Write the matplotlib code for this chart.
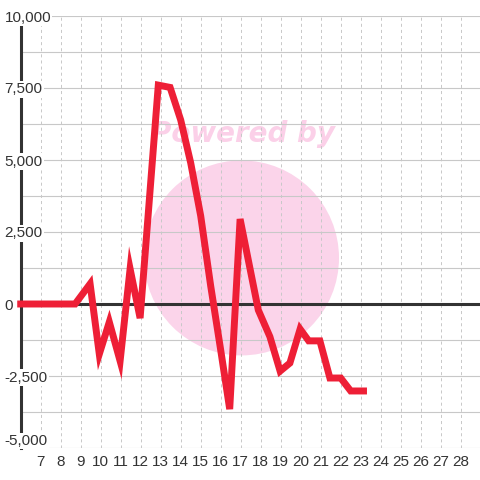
import matplotlib
matplotlib.use("Agg")
import matplotlib.pyplot as plt
from matplotlib.patches import Ellipse

# ---- data ----
x_vals = [6.0, 8.72, 9.47, 9.93, 10.43, 10.97, 11.47, 11.97, 12.88, 13.47, 14.0,
          14.5, 15.0, 15.5, 16.0, 16.45, 16.97, 17.88, 18.46, 18.97, 19.46, 19.97,
          20.4, 20.96, 21.46, 22.0, 22.5, 23.14]
values = [0, 0, 700, -1740, -625, -1980, 1220, -490, 7600, 7520, 6390,
          4900, 3060, 625, -1600, -3650, 2950, -210, -1135, -2330, -2050, -870,
          -1280, -1280, -2570, -2570, -3020, -3020]
x_ticks = list(range(7, 29))
x_tick_labels = [str(t) for t in x_ticks]
y_label_values = [10000, 7500, 5000, 2500, 0, -2500, -5000]
y_label_texts = ["10,000", "7,500", "5,000", "2,500", "0", "-2,500", "-5,000"]
y_grid_values = [-5000 + 1250 * i for i in range(13)]

plt.rcParams['lines.scale_dashes'] = False
FONT = ['Liberation Sans', 'DejaVu Sans']

W = H = 480
fig = plt.figure(figsize=(4.8, 4.8), dpi=100)
left_px, right_px, top_px, bot_px = 20.7, 480.7, 16, 448
ax = fig.add_axes([left_px / W, 1 - bot_px / H, (right_px - left_px) / W, (bot_px - top_px) / H])
ax.set_xlim(6, 29)
ax.set_ylim(-5000, 10000)

# watermark
circ = Ellipse((17.04, 1600), width=2 * 97.5 / 20, height=2 * 97.5 * 15000 / 432,
               facecolor='#FBD4EA', edgecolor='none', zorder=0.1)
ax.add_patch(circ)
ax.text(17.1, (304 - 134) * 15000 / 432, "Powered by", ha='center', va='center',
        fontsize=20, fontweight='bold', fontstyle='italic', color='#FBD0E8',
        family=['DejaVu Sans'], zorder=0.2)

# grid
ax.set_axisbelow(True)
for v in y_grid_values:
    ax.axhline(v, color='#c8c8c8', lw=0.8, zorder=0.5)
for t in x_ticks:
    ax.axvline(t, color='#c8c8c8', lw=0.7, linestyle=(0, (2.2, 2.2)), zorder=0.5)

# zero line
ax.axhline(0, color='#333333', lw=2.2, zorder=2)

# spines
for s in ['top', 'right', 'bottom']:
    ax.spines[s].set_visible(False)
ax.spines['left'].set_color('#333333')
ax.spines['left'].set_linewidth(2.2)
ax.spines['left'].set_zorder(2)

# series
ax.plot(x_vals, values, color='#EE1F36', lw=5, solid_capstyle='projecting',
        solid_joinstyle='miter', clip_on=False, zorder=3)

# ticks
ax.set_yticks([])
ax.set_xticks(x_ticks)
ax.set_xticklabels(x_tick_labels, family=FONT, fontsize=11, color='#333333')
ax.tick_params(axis='x', length=0, pad=4.8)

ytr = ax.get_yaxis_transform()
lab_x = (4.5 - left_px) / (right_px - left_px)
for v, t in zip(y_label_values, y_label_texts):
    va = 'bottom' if v == -5000 else 'center_baseline'
    ax.text(lab_x, v, t, transform=ytr, ha='left', va=va, fontsize=11,
            family=FONT, color='#333333', clip_on=False, zorder=2.6,
            bbox=dict(facecolor='white', edgecolor='none', pad=0.8))

fig.savefig("out.png", dpi=100, facecolor='white')
